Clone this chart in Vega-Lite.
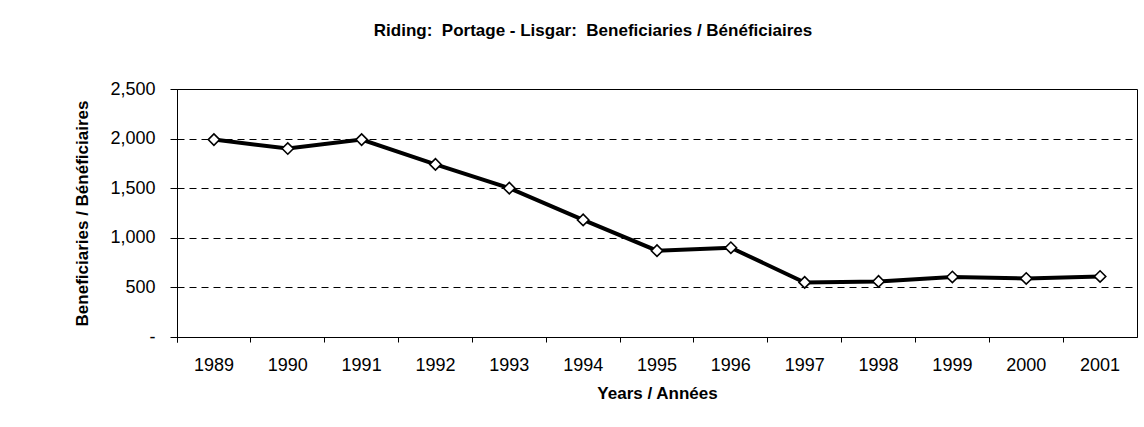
{
  "$schema": "https://vega.github.io/schema/vega-lite/v6.json",
  "autosize": "none",
  "width": 960,
  "height": 248,
  "padding": {"left": 177, "top": 89, "right": 7, "bottom": 90},
  "background": "white",
  "title": {
    "text": "Riding:\u00a0\u00a0Portage - Lisgar:\u00a0\u00a0Beneficiaries / Bénéficiaires",
    "font": "Liberation Sans",
    "fontSize": 17,
    "fontWeight": "bold",
    "color": "black",
    "anchor": "middle",
    "dx": -64,
    "offset": 40
  },
  "config": {
    "view": {"stroke": "black", "strokeWidth": 1},
    "axis": {
      "labelFont": "Liberation Sans",
      "labelFontSize": 18,
      "labelColor": "black",
      "titleFont": "Liberation Sans",
      "titleFontSize": 17,
      "titleFontWeight": "bold",
      "titleColor": "black",
      "domainColor": "black",
      "tickColor": "black"
    }
  },
  "data": {
    "values": [
      {"year": "1989", "beneficiaries": 1990},
      {"year": "1990", "beneficiaries": 1900},
      {"year": "1991", "beneficiaries": 1990},
      {"year": "1992", "beneficiaries": 1740},
      {"year": "1993", "beneficiaries": 1500},
      {"year": "1994", "beneficiaries": 1180},
      {"year": "1995", "beneficiaries": 870},
      {"year": "1996", "beneficiaries": 900},
      {"year": "1997", "beneficiaries": 550},
      {"year": "1998", "beneficiaries": 560},
      {"year": "1999", "beneficiaries": 605},
      {"year": "2000", "beneficiaries": 590},
      {"year": "2001", "beneficiaries": 610}
    ]
  },
  "encoding": {
    "x": {
      "field": "year",
      "type": "ordinal",
      "scale": {"type": "band", "paddingInner": 0, "paddingOuter": 0},
      "axis": {
        "title": "Years / Années",
        "labelAngle": 0,
        "bandPosition": 0,
        "grid": false,
        "tickSize": 5,
        "labelPadding": 14,
        "titlePadding": 11,
        "ticks": true,
        "tickExtra": true
      }
    },
    "y": {
      "field": "beneficiaries",
      "type": "quantitative",
      "scale": {"domain": [0, 2500], "nice": false},
      "axis": {
        "title": "Beneficiaries / Bénéficiaires",
        "values": [0, 500, 1000, 1500, 2000, 2500],
        "labelExpr": "datum.value == 0 ? '-' : format(datum.value, ',')",
        "grid": true,
        "gridColor": "black",
        "gridDash": [7, 5],
        "gridWidth": 1,
        "tickSize": 7,
        "labelPadding": 15,
        "titlePadding": 18
      }
    }
  },
  "layer": [
    {
      "mark": {"type": "line", "color": "black", "strokeWidth": 4}
    },
    {
      "mark": {"type": "point", "shape": "diamond", "filled": true, "fill": "white", "stroke": "black", "strokeWidth": 1.6, "size": 130, "opacity": 1}
    }
  ]
}
